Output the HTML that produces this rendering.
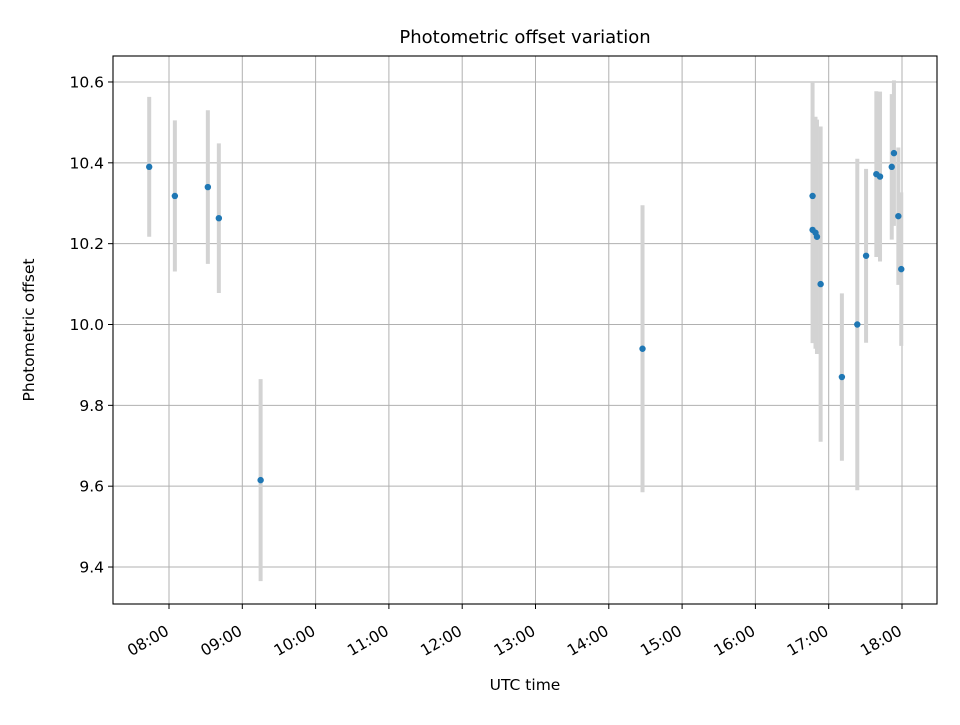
<!DOCTYPE html>
<html><head><meta charset="utf-8"><style>
body{margin:0;background:#fff;}
svg text{font-family:"DejaVu Sans","Liberation Sans",sans-serif;fill:#000;}
</style></head><body>
<svg id="chart" width="960" height="720" xmlns="http://www.w3.org/2000/svg">
<rect width="960" height="720" fill="#fff"/>
<g id="grid"></g>
<g id="errbars"></g>
<g id="points"></g>
<rect x="113" y="56" width="824" height="548" fill="none" stroke="#000" stroke-width="1.1"/>
<g id="axes"></g>
<text x="525" y="43" font-size="18" text-anchor="middle">Photometric offset variation</text>
<text x="525" y="690" font-size="15.5" text-anchor="middle">UTC time</text>
<text x="34" y="330" font-size="15.5" text-anchor="middle" transform="rotate(-90 34 330)">Photometric offset</text>
</svg>
<script>
const times = [7.73,8.08,8.53,8.68,9.25,14.46,16.78,16.78,16.82,16.84,16.89,17.18,17.39,17.51,17.65,17.70,17.86,17.89,17.95,17.99];
const values = [10.39,10.318,10.34,10.263,9.615,9.94,10.318,10.234,10.227,10.217,10.10,9.87,10.0,10.17,10.372,10.366,10.39,10.424,10.268,10.137];
const errors = [0.173,0.187,0.19,0.185,0.25,0.355,0.282,0.28,0.287,0.29,0.39,0.207,0.41,0.215,0.205,0.21,0.18,0.18,0.17,0.19];
const xTicks = [8,9,10,11,12,13,14,15,16,17,18];
const yTicks = [9.4,9.6,9.8,10.0,10.2,10.4,10.6];
const NS="http://www.w3.org/2000/svg";
function xs(h){return 169+(h-8)*73.3;}
function ys(v){return 324.5-(v-10.0)*404.2;}
function mk(tag,attrs,parent){const e=document.createElementNS(NS,tag);for(const k in attrs)e.setAttribute(k,attrs[k]);parent.appendChild(e);return e;}
const grid=document.getElementById('grid'),axes=document.getElementById('axes'),eb=document.getElementById('errbars'),pts=document.getElementById('points');
xTicks.forEach(h=>{
  const x=xs(h);
  const g=mk('line',{x1:x,x2:x,y1:56,y2:604,stroke:'#b0b0b0','stroke-width':1},grid);
  
  
  const t=mk('line',{x1:x,x2:x,y1:604,y2:609,stroke:'#000','stroke-width':1},axes);
  
  
  const lab=(h<10?'0':'')+h+':00';
  const ax=x+1, ay=634;
  const tx=mk('text',{x:ax,y:ay,'font-size':15.5,'text-anchor':'end',transform:`rotate(-30 ${ax} ${ay})`},axes);
  tx.textContent=lab;
  
  
});
yTicks.forEach(v=>{
  const y=ys(v);
  const g=mk('line',{x1:113,x2:937,y1:y,y2:y,stroke:'#b0b0b0','stroke-width':1},grid);
  
  
  const t=mk('line',{x1:108,x2:113,y1:y,y2:y,stroke:'#000','stroke-width':1},axes);
  
  
  const tx=mk('text',{x:104,y:y+5.5,'font-size':15.5,'text-anchor':'end'},axes);
  tx.textContent=v.toFixed(1);
  
  
});
times.forEach((h,i)=>{
  const x=xs(h);
  const l=mk('line',{x1:x,x2:x,y1:ys(values[i]+errors[i]),y2:ys(values[i]-errors[i]),stroke:'#d3d3d3','stroke-width':4},eb);
  
  
});
times.forEach((h,i)=>{
  const c=mk('circle',{cx:xs(h),cy:ys(values[i]),r:3.2,fill:'#1f77b4'},pts);
  
  
});
</script>
</body></html>
